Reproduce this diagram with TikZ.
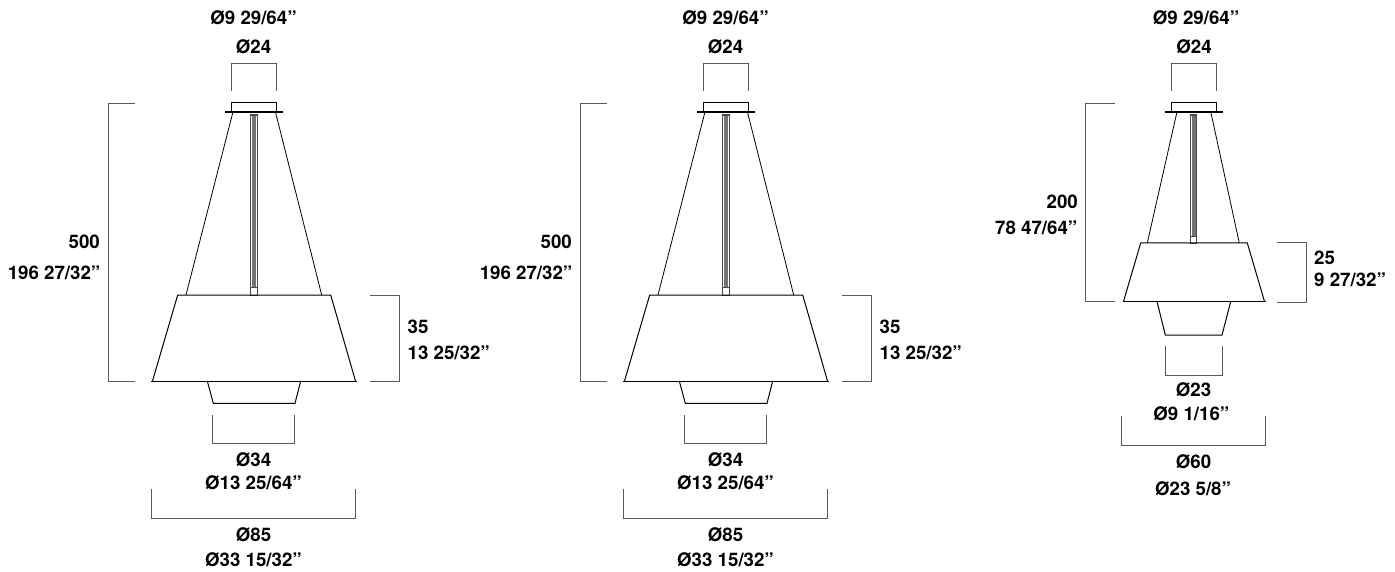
\documentclass[tikz,border=0pt]{standalone}
\usepackage{fontspec}
\setmainfont{TeX Gyre Heros}
\tikzset{
 lbl/.style={font=\bfseries\fontsize{18.7}{20}\selectfont,inner sep=0pt,text=black},
 dim/.style={draw=black!65,line width=0.9pt},
 lamp/.style={draw=black,line width=1pt},
 thin/.style={draw=black,line width=0.8pt},
}
\newcommand{\lampA}[1]{%
\begin{scope}[xshift=#1]
 \draw[lamp,line width=.9pt] (231,112) rectangle (276.5,102);
 \draw[line width=2pt] (225,112.3) -- (283,112.3);
 \draw[thin] (232.7,113) -- (186,295);
 \draw[thin] (275.7,113) -- (321.7,295);
 \fill[black!55] (252,114) rectangle (256,287);
 \draw[black!70,line width=.7pt] (250.5,114) rectangle (257.5,295);
 \draw[black!70,line width=.6pt] (250.5,287) -- (257.5,287);
 \draw[black!70,line width=.6pt] (251,115) -- (257,115);
 \draw[lamp] (152.5,381) -- (177.7,295) -- (330.7,295) -- (355.5,381);
 \draw[lamp,line width=1pt] (151,381) -- (357,381);
 \draw[lamp] (207.3,381) -- (213.3,403.3) -- (295,403.3) -- (300.7,381);
 \draw[dim] (231,91) -- (231,63) -- (276.5,63) -- (276.5,91);
 \draw[dim] (135,103) -- (108,103) -- (108,381) -- (135,381);
 \draw[dim] (370,295) -- (399.5,295) -- (399.5,381) -- (370,381);
 \draw[dim] (212.5,415) -- (212.5,443) -- (294,443) -- (294,415);
 \draw[dim] (151,489) -- (151,518) -- (355,518) -- (355,489);
 \node[lbl] at (253.5,17.5) {Ø9 29/64”};
 \node[lbl] at (253.5,46.5) {Ø24};
 \node[lbl,anchor=east] at (100,242) {500};
 \node[lbl,anchor=east] at (100.5,272.7) {196 27/32”};
 \node[lbl,anchor=west] at (407.5,327.3) {35};
 \node[lbl,anchor=west] at (407.5,353.3) {13 25/32”};
 \node[lbl] at (253.5,460) {Ø34};
 \node[lbl] at (253.5,483) {Ø13 25/64”};
 \node[lbl] at (253.5,535) {Ø85};
 \node[lbl] at (253.5,560) {Ø33 15/32”};
\end{scope}}
\begin{document}
\begin{tikzpicture}[x=1pt,y=-1pt]
\useasboundingbox (0,0) rectangle (1395,572);
\lampA{0pt}
\lampA{472pt}
% third lamp
 \draw[lamp,line width=1.2pt] (1171.3,111.5) -- (1171.3,102.5) -- (1216.3,102.5) -- (1216.3,111.5);
 \draw[line width=1.4pt] (1164.5,112) -- (1222.7,112);
 \draw[thin] (1176.7,113) -- (1147.3,243);
 \draw[thin] (1211,113) -- (1239.3,243);
 \fill[black!55] (1192,114) rectangle (1196,236);
 \draw[black!70,line width=.7pt] (1190.7,114) rectangle (1196.7,243);
 \draw[black!70,line width=.6pt] (1190.7,236) -- (1196.7,236);
 \draw[black!70,line width=.6pt] (1191,115) -- (1196.5,115);
 \draw[lamp] (1123.5,301.5) -- (1140.7,243) -- (1247.3,243) -- (1264.5,301.5);
 \draw[lamp,line width=1.6pt] (1122.5,301.5) -- (1265.5,301.5);
 \draw[lamp] (1157,301.5) -- (1165.3,335) -- (1222,335) -- (1230.7,301.5);
 \draw[dim] (1171.3,91.5) -- (1171.3,63) -- (1216.3,63) -- (1216.3,91.5);
 \draw[dim] (1114.5,103.5) -- (1085.7,103.5) -- (1085.7,301.5) -- (1114.5,301.5);
 \draw[dim] (1277.3,242.5) -- (1306,242.5) -- (1306,302) -- (1277.3,302);
 \draw[dim] (1165,346) -- (1165,375.3) -- (1222,375.3) -- (1222,346);
 \draw[dim] (1121.7,416) -- (1121.7,445.3) -- (1265.7,445.3) -- (1265.7,416);
 \node[lbl] at (1196,17.5) {Ø9 29/64”};
 \node[lbl] at (1194,46.5) {Ø24};
 \node[lbl,anchor=east] at (1078,202) {200};
 \node[lbl,anchor=east] at (1077.5,227.5) {78 47/64”};
 \node[lbl,anchor=west] at (1314,258) {25};
 \node[lbl,anchor=west] at (1314,280) {9 27/32”};
 \node[lbl] at (1193.5,390) {Ø23};
 \node[lbl] at (1191.3,414) {Ø9 1/16”};
 \node[lbl] at (1193.5,462) {Ø60};
 \node[lbl] at (1193,489) {Ø23 5/8”};
\end{tikzpicture}
\end{document}
